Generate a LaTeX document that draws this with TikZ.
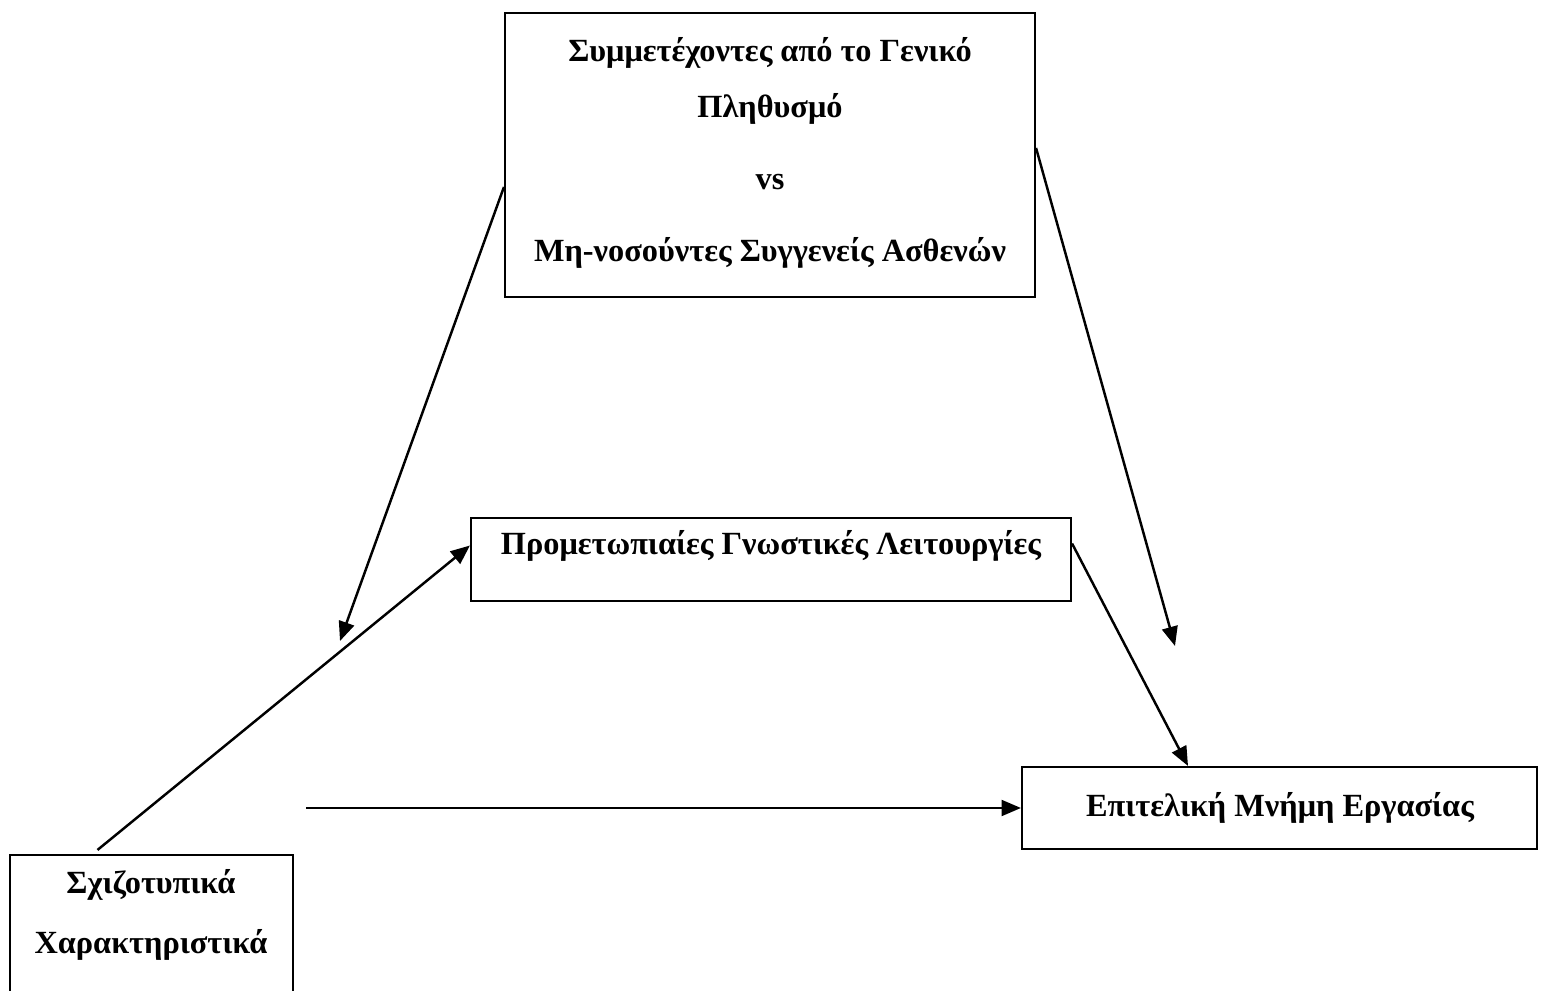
\documentclass[tikz,border=0pt]{standalone}
\usepackage{fontspec}
\setmainfont{Liberation Serif}
\usepackage{tikz}
\usetikzlibrary{arrows.meta}

\tikzset{
    box/.style={draw,line width=0.6pt,rectangle,inner sep=0pt},
    lbl/.style={font=\bfseries\fontsize{9.2}{15.9}\selectfont,align=center,inner sep=0pt},
    arr/.style={line width=0.7pt,-{Triangle[length=5.5pt,width=4.5pt]}},
}

\begin{document}
\begin{tikzpicture}
    \useasboundingbox (0,0) rectangle (15.41,-9.91);
    % boxes
    \node[box,minimum width=5.30cm,minimum height=2.84cm] (gen) at (7.70,-1.55) {};
    \node[box,minimum width=6.00cm,minimum height=0.83cm] (prom) at (7.71,-5.595) {};
    \node[box,minimum width=2.83cm,minimum height=1.60cm] (schiz) at (1.515,-9.35) {};
    \node[box,minimum width=5.15cm,minimum height=0.82cm] (wm) at (12.795,-8.08) {};
    % texts
    \node[lbl] (gentxt) at (7.70,-1.53) {Συμμετέχοντες από το Γενικό\\Πληθυσμό\\[0.16cm]vs\\[0.16cm]Μη-νοσούντες Συγγενείς Ασθενών};
    \node[lbl] (promtxt) at (7.71,-5.46) {Προμετωπιαίες Γνωστικές Λειτουργίες};
    \node[lbl] (schiztxt) at (1.51,-9.15) {Σχιζοτυπικά\\[0.04cm]Χαρακτηριστικά};
    \node[lbl] (wmtxt) at (12.80,-8.08) {Επιτελική Μνήμη Εργασίας};
    % free ends
    \coordinate (endl) at (3.40,-6.41);
    \coordinate (endr) at (11.75,-6.46);
    % connectors
    \draw[arr] ([xshift=-0.54cm,yshift=0.04cm]schiz.north) -- ([yshift=0.14cm]prom.west);
    \draw[arr] ([xshift=0.12cm]schiz.east |- wm.west) -- (wm.west);
    \draw[arr] ([yshift=0.16cm]prom.east) -- ([xshift=-0.915cm]wm.north);
    \draw[arr] ([yshift=-0.32cm]gen.west) -- (endl);
    \draw[arr] ([yshift=0.07cm]gen.east) -- (endr);
\end{tikzpicture}
\end{document}
